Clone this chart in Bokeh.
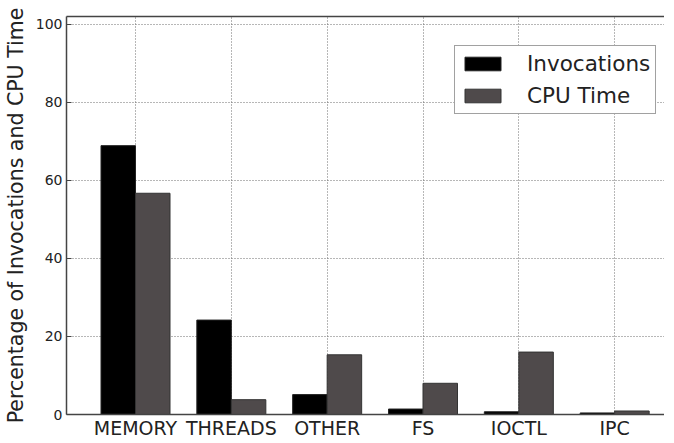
import numpy as np
from bokeh.plotting import figure
from bokeh.models import Range1d, LinearAxis, Legend, LegendItem, FixedTicker
from bokeh.embed import file_html
from bokeh.resources import INLINE

categories = ["MEMORY", "THREADS", "OTHER", "FS", "IOCTL", "IPC"]
invocations = [68.9, 24.2, 5.1, 1.4, 0.7, 0.4]
cpu_time = [56.7, 3.8, 15.3, 8.0, 16.0, 0.9]
y_ticks = [0, 20, 40, 60, 80, 100]

FONT = "DejaVu Sans"
idx = np.arange(len(categories))
bw = 0.36

p = figure(frame_width=598, frame_height=398, output_backend="svg", toolbar_location=None,
           x_range=Range1d(-0.72, 5.52), y_range=Range1d(0, 102),
           min_border_left=60, min_border_top=16, min_border_right=0, min_border_bottom=0)
p.outline_line_color = None
p.background_fill_color = "white"
p.border_fill_color = "white"

r1 = p.vbar(x=idx - bw / 2, top=invocations, width=bw, fill_color="#000000",
            line_color="#222222", line_width=1)
r2 = p.vbar(x=idx + bw / 2, top=cpu_time, width=bw, fill_color="#4f4a4b",
            line_color="#333333", line_width=1)

# axes
p.xaxis.ticker = FixedTicker(ticks=list(idx))
p.xaxis.major_label_overrides = {int(i): c for i, c in zip(idx, categories)}
p.xaxis.major_label_text_font = FONT
p.xaxis.major_label_text_font_size = "19px"
p.xaxis.major_label_text_color = "#222222"
p.xaxis.major_label_standoff = 2
p.xaxis.major_tick_in = 0
p.xaxis.major_tick_out = 0
p.xaxis.minor_tick_line_color = None
p.xaxis.axis_line_color = "#444444"
p.xaxis.axis_line_width = 1.5

p.yaxis.ticker = FixedTicker(ticks=y_ticks)
p.yaxis.major_label_text_font = FONT
p.yaxis.major_label_text_font_size = "14px"
p.yaxis.major_label_text_color = "#222222"
p.yaxis.major_label_standoff = 4
p.yaxis.major_tick_in = 5
p.yaxis.major_tick_out = 0
p.yaxis.major_tick_line_color = "#444444"
p.yaxis.minor_tick_line_color = None
p.yaxis.axis_line_color = "#444444"
p.yaxis.axis_line_width = 1.5
p.yaxis.axis_label = "Percentage of Invocations and CPU Time"
p.yaxis.axis_label_text_font = FONT
p.yaxis.axis_label_text_font_size = "20.5px"
p.yaxis.axis_label_text_font_style = "normal"
p.yaxis.axis_label_text_color = "#222222"
p.yaxis.axis_label_standoff = 5

top_axis = LinearAxis(major_tick_line_color=None, minor_tick_line_color=None,
                      major_label_text_font_size="0px", axis_line_color="#444444",
                      axis_line_width=1.5)
top_axis.ticker = FixedTicker(ticks=[])
p.add_layout(top_axis, "above")

# grids
for g in (p.xgrid, p.ygrid):
    g.grid_line_color = "#6f6f6f"
    g.grid_line_dash = "1 2"
    g.grid_line_width = 1
p.xgrid.ticker = FixedTicker(ticks=list(idx))
p.ygrid.ticker = FixedTicker(ticks=y_ticks)

legend = Legend(items=[LegendItem(label="Invocations", renderers=[r1]),
                       LegendItem(label="CPU Time", renderers=[r2])])
legend.label_text_font = FONT
legend.label_text_font_size = "21.5px"
legend.label_text_color = "#222222"
legend.glyph_width = 45
legend.glyph_height = 17
legend.label_standoff = 22
legend.spacing = 7
legend.padding = 5
legend.margin = 0
legend.border_line_color = "#444444"
legend.border_line_width = 1
legend.background_fill_alpha = 1
legend.location = (388, 300)
p.add_layout(legend)

open("out.html", "w").write(file_html(p, INLINE))
